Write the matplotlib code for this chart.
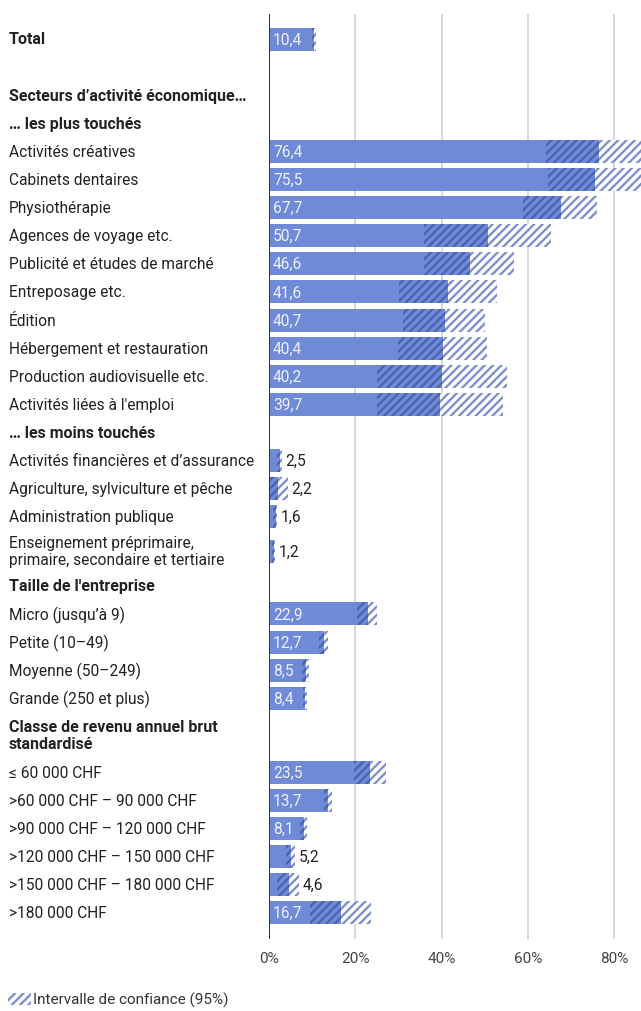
import matplotlib
matplotlib.use("Agg")
import matplotlib.pyplot as plt
from matplotlib.patches import Rectangle

plt.rcParams["font.family"] = ["Roboto", "DejaVu Sans"]
plt.rcParams["hatch.linewidth"] = 1.7

# ── data ─────────────────────────────────────────────────────────────────────
# kinds: "bar" = value row, "head" = bold section title, "blank" = spacer
labels = [
    "Total", "", "Secteurs d’activité économique…", "… les plus touchés",
    "Activités créatives", "Cabinets dentaires", "Physiothérapie",
    "Agences de voyage etc.", "Publicité et études de marché",
    "Entreposage etc.", "Édition", "Hébergement et restauration",
    "Production audiovisuelle etc.", "Activités liées à l'emploi",
    "… les moins touchés",
    "Activités financières et d’assurance", "Agriculture, sylviculture et pêche",
    "Administration publique",
    "Enseignement préprimaire,\nprimaire, secondaire et tertiaire",
    "Taille de l'entreprise",
    "Micro (jusqu’à 9)", "Petite (10–49)", "Moyenne (50–249)",
    "Grande (250 et plus)",
    "Classe de revenu annuel brut\nstandardisé",
    "≤ 60 000 CHF", ">60 000 CHF – 90 000 CHF", ">90 000 CHF – 120 000 CHF",
    ">120 000 CHF – 150 000 CHF", ">150 000 CHF – 180 000 CHF", ">180 000 CHF",
]
kinds = [
    "bold_bar", "blank", "head", "head",
    "bar", "bar", "bar", "bar", "bar", "bar", "bar", "bar", "bar", "bar",
    "head",
    "bar", "bar", "bar", "bar",
    "head",
    "bar", "bar", "bar", "bar",
    "head",
    "bar", "bar", "bar", "bar", "bar", "bar",
]
values = [
    10.4, None, None, None,
    76.4, 75.5, 67.7, 50.7, 46.6, 41.6, 40.7, 40.4, 40.2, 39.7,
    None,
    2.5, 2.2, 1.6, 1.2,
    None,
    22.9, 12.7, 8.5, 8.4,
    None,
    23.5, 13.7, 8.1, 5.2, 4.6, 16.7,
]
ci_low = [
    9.9, None, None, None,
    64.2, 64.8, 59.0, 35.9, 35.9, 30.2, 31.1, 29.9, 25.1, 25.1,
    None,
    1.9, 0.3, 0.9, 0.6,
    None,
    20.5, 11.5, 7.6, 7.8,
    None,
    19.8, 12.8, 7.2, 3.9, 1.9, 9.5,
]
ci_high = [
    10.9, None, None, None,
    88.6, 86.3, 76.0, 65.3, 56.7, 52.8, 50.1, 50.6, 55.2, 54.3,
    None,
    3.1, 4.4, 1.9, 1.5,
    None,
    25.1, 13.7, 9.2, 8.9,
    None,
    27.1, 14.5, 8.7, 6.1, 7.0, 23.6,
]
x_ticks = [0, 20, 40, 60, 80]

# ── style ────────────────────────────────────────────────────────────────────
BAR = "#6f8ad6"
DARK_HATCH = "#4a62b2"
LIGHT_HATCH = "#7d90cc"
TEXT = "#222222"
GRID = "#d4d4d4"

W, H = 641, 1012
PITCH = 28.1
BAR_H = 23

# row heights in pixels; two-line rows get more room
row_h = []
for lab, kind in zip(labels, kinds):
    if "\n" in lab:
        row_h.append(41 if kind == "bar" else 46)
    else:
        row_h.append(PITCH)

centers = []
y = 40 - PITCH / 2
for h in row_h:
    centers.append(y + h / 2)
    y += h

fig = plt.figure(figsize=(W / 100, H / 100), dpi=100)
top_px, bot_px = 15, 940
ax_left = 269 / W
ax = fig.add_axes([ax_left, 1 - bot_px / H, 1 - ax_left, (bot_px - top_px) / H])
ax.set_xlim(0, 86.25)
ax.set_ylim(bot_px, top_px)

for t in x_ticks[1:]:
    ax.axvline(t, color=GRID, lw=1.3, zorder=0)
ax.axvline(0, color="#333333", lw=1.4, zorder=5)

for lab, kind, yc, v, lo, hi in zip(labels, kinds, centers, values, ci_low, ci_high):
    bold = kind in ("head", "bold_bar")
    fig.text(9 / W, 1 - yc / H, lab, ha="left", va="center",
             fontsize=11.5 if bold else 11.2, color=TEXT,
             fontweight="bold" if bold else "normal", linespacing=1.2)
    if v is None:
        continue
    ax.barh(yc, lo, height=BAR_H, color=BAR, lw=0, zorder=2)
    ax.barh(yc, v - lo, left=lo, height=BAR_H, color=BAR, hatch="////",
            edgecolor=DARK_HATCH, lw=0, zorder=2)
    ax.barh(yc, hi - v, left=v, height=BAR_H, color="white", hatch="////",
            edgecolor=LIGHT_HATCH, lw=0, zorder=2)
    txt = f"{v:.1f}".replace(".", ",")
    if v >= 8:
        ax.annotate(txt, (0, yc), xytext=(4, 0), textcoords="offset pixels",
                    ha="left", va="center", fontsize=11.2, color="#eef1fa",
                    zorder=6)
    else:
        ax.annotate(txt, (hi, yc), xytext=(3, 0), textcoords="offset pixels",
                    ha="left", va="center", fontsize=11.2, color=TEXT, zorder=6)

ax.set_yticks([])
ax.set_xticks(x_ticks)
ax.set_xticklabels([f"{t}%" for t in x_ticks])
ax.tick_params(axis="x", length=0, pad=9, labelsize=11, labelcolor="#444444")
for s in ax.spines.values():
    s.set_visible(False)

# legend
lx, ly = 8 / W, 1 - 1006 / H
fig.patches.append(Rectangle((lx, ly), 23 / W, 12 / H, transform=fig.transFigure,
                             facecolor="white", hatch="////",
                             edgecolor=LIGHT_HATCH, lw=0))
fig.text(33 / W, 1 - 1000 / H, "Intervalle de confiance (95%)", ha="left",
         va="center", fontsize=11, color="#333333")

fig.savefig("out.png", dpi=100)
